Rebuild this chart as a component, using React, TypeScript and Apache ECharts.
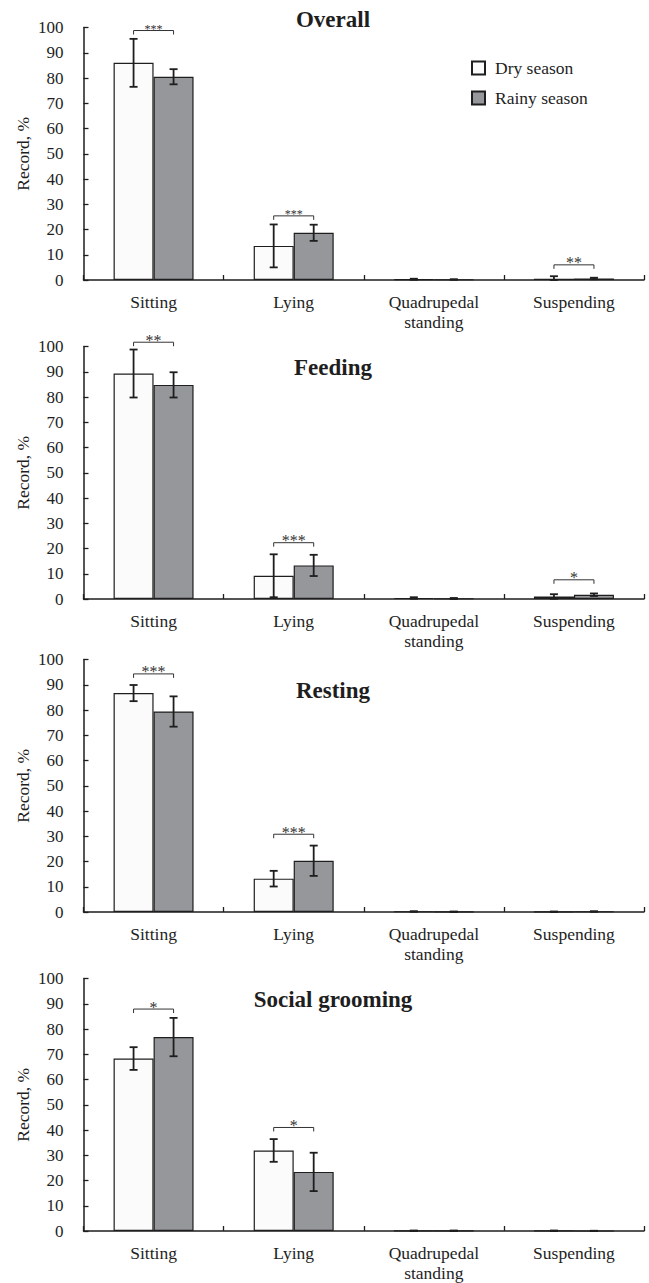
import React, { useEffect, useRef } from "react";
import * as echarts from "echarts";

const categories = ["Sitting", "Lying", "Quadrupedal\nstanding", "Suspending"];
const panelTitles = ["Overall", "Feeding", "Resting", "Social grooming"];
const seriesNames = ["Dry season", "Rainy season"];

const dryMeans = [
  [86.0, 13.5, 0.3, 0.5],
  [89.3, 9.2, 0.4, 1.0],
  [86.7, 13.2, 0.2, 0.1],
  [68.3, 31.9, 0.1, 0.1],
];
const drySD = [
  [9.5, 8.5, 0.2, 1.0],
  [9.5, 8.5, 0.3, 0.9],
  [3.2, 3.1, 0.1, 0.1],
  [4.5, 4.5, 0.1, 0.1],
];
const rainyMeans = [
  [80.5, 18.7, 0.2, 0.6],
  [84.8, 13.3, 0.2, 1.7],
  [79.4, 20.3, 0.1, 0.2],
  [76.8, 23.4, 0.1, 0.0],
];
const rainySD = [
  [3.0, 3.2, 0.1, 0.3],
  [5.0, 4.2, 0.2, 0.5],
  [6.0, 6.0, 0.1, 0.1],
  [7.6, 7.6, 0.1, 0.1],
];

// [categoryIndex, bracketValue, label, fontSize]
const brackets: [number, number, string, number][][] = [
  [
    [0, 98.8, "***", 12],
    [1, 25.4, "***", 12],
    [3, 6.0, "**", 16],
  ],
  [
    [0, 101.7, "**", 16],
    [1, 22.3, "***", 16],
    [3, 7.6, "*", 16],
  ],
  [
    [0, 94.3, "***", 16],
    [1, 30.8, "***", 16],
  ],
  [
    [0, 87.9, "*", 16],
    [1, 41.0, "*", 16],
  ],
];

const yTicksMin = 0;
const yTicksMax = 100;
const yTicksInterval = 10;

const FONT = "Liberation Serif";
const INK = "#1e1e1e";

const gridTops = [27.5, 346.5, 659.5, 978.5];
const gridHeight = 252.5;
const titleY = [19.5, 367, 690, 999];
const HALF = 20;

export default function App() {
  const ref = useRef<HTMLDivElement>(null);

  useEffect(() => {
    document.body.style.margin = "0";
    if (!ref.current) return;
    const chart = echarts.init(ref.current, undefined, { renderer: "svg" });

    const grids: any[] = [];
    const xAxes: any[] = [];
    const yAxes: any[] = [];
    const series: any[] = [];
    const graphics: any[] = [];

    for (let p = 0; p < 4; p++) {
      grids.push({ left: 83.5, right: 5, top: gridTops[p], height: gridHeight });
      xAxes.push({
        type: "category",
        gridIndex: p,
        data: categories,
        axisLine: { show: true, lineStyle: { color: INK, width: 1.5 } },
        axisTick: { show: true, inside: true, length: 5, alignWithLabel: false, lineStyle: { color: INK, width: 1.3 } },
        axisLabel: {
          interval: 0,
          margin: 12,
          fontFamily: FONT,
          fontSize: 17.5,
          lineHeight: 20,
          color: INK,
        },
        splitLine: { show: false },
      });
      yAxes.push({
        type: "value",
        gridIndex: p,
        min: yTicksMin,
        max: yTicksMax,
        interval: yTicksInterval,
        axisLine: { show: true, lineStyle: { color: INK, width: 1.5 } },
        axisTick: { show: true, inside: true, length: 5, lineStyle: { color: INK, width: 1.3 } },
        axisLabel: { margin: 20, fontFamily: FONT, fontSize: 17, color: INK },
        splitLine: { show: false },
      });

      series.push({
        name: seriesNames[0],
        type: "bar",
        xAxisIndex: p,
        yAxisIndex: p,
        data: dryMeans[p],
        barWidth: 40,
        barGap: "0%",
        itemStyle: { color: "#fbfbfb", borderColor: INK, borderWidth: 1.2 },
        emphasis: { disabled: true },
      });
      series.push({
        name: seriesNames[1],
        type: "bar",
        xAxisIndex: p,
        yAxisIndex: p,
        data: rainyMeans[p],
        barWidth: 40,
        barGap: "0%",
        itemStyle: { color: "#96979b", borderColor: INK, borderWidth: 1.2 },
        emphasis: { disabled: true },
      });

      const errData: any[] = [];
      for (let c = 0; c < categories.length; c++) {
        errData.push([c, dryMeans[p][c], drySD[p][c], -1]);
        errData.push([c, rainyMeans[p][c], rainySD[p][c], 1]);
      }
      series.push({
        type: "custom",
        xAxisIndex: p,
        yAxisIndex: p,
        data: errData,
        clip: false,
        z: 5,
        silent: true,
        renderItem: (params: any, api: any) => {
          const cat = api.value(0);
          const m = api.value(1);
          const sd = api.value(2);
          const s = api.value(3);
          const c = api.coord([cat, m]);
          const x = c[0] + s * HALF;
          const yt = api.coord([cat, m + sd])[1];
          const yb = api.coord([cat, Math.max(0, m - sd)])[1];
          const st = { stroke: INK, lineWidth: 1.8 };
          return {
            type: "group",
            children: [
              { type: "line", shape: { x1: x, y1: yt, x2: x, y2: yb }, style: st },
              { type: "line", shape: { x1: x - 4, y1: yt, x2: x + 4, y2: yt }, style: st },
              { type: "line", shape: { x1: x - 4, y1: yb, x2: x + 4, y2: yb }, style: st },
            ],
          };
        },
      });

      series.push({
        type: "custom",
        xAxisIndex: p,
        yAxisIndex: p,
        data: brackets[p].map((b) => [b[0], b[1], b[3]]),
        clip: false,
        z: 6,
        silent: true,
        renderItem: (params: any, api: any) => {
          const b = brackets[p][params.dataIndex];
          const cat = api.value(0);
          const v = api.value(1);
          const fs = api.value(2);
          const c = api.coord([cat, v]);
          const x1 = c[0] - HALF;
          const x2 = c[0] + HALF;
          const y = c[1];
          return {
            type: "group",
            children: [
              {
                type: "polyline",
                shape: { points: [[x1, y + 4], [x1, y], [x2, y], [x2, y + 4]] },
                style: { stroke: "#333", lineWidth: 1, fill: "none" },
              },
              {
                type: "text",
                x: c[0],
                y: y - 2,
                style: {
                  text: b[2],
                  fontFamily: FONT,
                  fontSize: fs,
                  fill: "#333",
                  align: "center",
                  verticalAlign: "middle",
                },
              },
            ],
          };
        },
      });

      graphics.push({
        type: "text",
        x: 333,
        y: titleY[p],
        style: {
          text: panelTitles[p],
          fontFamily: FONT,
          fontWeight: "bold",
          fontSize: 23,
          fill: INK,
          align: "center",
          verticalAlign: "middle",
        },
      });
      graphics.push({
        type: "text",
        x: 23,
        y: gridTops[p] + gridHeight / 2,
        rotation: Math.PI / 2,
        style: {
          text: "Record, %",
          fontFamily: FONT,
          fontSize: 17.5,
          fill: INK,
          align: "center",
          verticalAlign: "middle",
        },
      });
    }

    chart.setOption({
      animation: false,
      backgroundColor: "#ffffff",
      grid: grids,
      xAxis: xAxes,
      yAxis: yAxes,
      series,
      graphic: graphics,
      legend: {
        data: seriesNames,
        orient: "vertical",
        left: 466,
        top: 54,
        itemWidth: 13,
        itemHeight: 13,
        itemGap: 12,
        icon: "rect",
        selectedMode: false,
        textStyle: { fontFamily: FONT, fontSize: 17.5, color: INK, padding: [0, 0, 0, 5] },
      },
    });

    return () => chart.dispose();
  }, []);

  return <div ref={ref} style={{ width: 649, height: 1283 }} />;
}
